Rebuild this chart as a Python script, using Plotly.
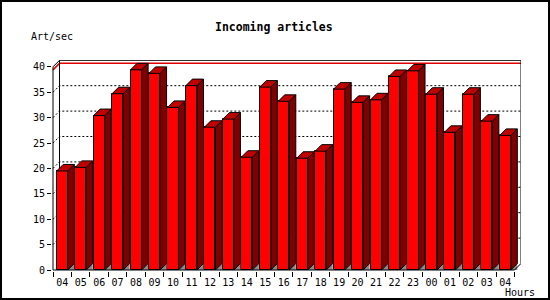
import plotly.graph_objects as go

# ---- data ----
hours = ["04", "05", "06", "07", "08", "09", "10", "11", "12", "13", "14", "15",
         "16", "17", "18", "19", "20", "21", "22", "23", "00", "01", "02", "03", "04"]
articles_per_sec = [19.5, 20.2, 30.4, 34.7, 39.4, 38.7, 32.0, 36.3, 28.1, 29.7, 22.2, 36.0,
                    33.2, 22.0, 23.4, 35.6, 33.0, 33.5, 38.1, 39.2, 34.6, 27.1, 34.6, 29.3, 26.5]
y_ticks = [0, 5, 10, 15, 20, 25, 30, 35, 40]
title = "Incoming articles"
y_title = "Art/sec"
x_title = "Hours"

# ---- geometry / style ----
W, H = 550, 300
ML, MR, MT, MB = 52, 29, 60, 29
PW, PH = W - ML - MR, H - MT - MB
DEPTH = 6.5                      # 3d depth in px
n = len(hours)
S = (PW - 1 - DEPTH) / n         # px per category
U = 5.08                         # px per unit
dxu = DEPTH / S
dyu = DEPTH / U
x0, x1 = -0.5, n - 0.5
xr = [x0 - 1 / S, x1 + dxu]
yr = [-1 / U, (PH - 1) / U]
ymax_axis = y_ticks[-1]
half = 0.3

FRONT = "#ff0000"
SIDE = "#800000"
TOP = "#c00000"
FONT = "DejaVu Sans Mono"

xs = list(range(n))

fig = go.Figure()

# front faces
fig.add_trace(go.Bar(x=xs, y=articles_per_sec, width=2 * half,
                     marker=dict(color=FRONT, line=dict(color="black", width=1)),
                     hoverinfo="skip", showlegend=False))

# floor shadows
tx, ty = [], []
for i, v in zip(xs, articles_per_sec):
    tx += [i + half, i + half + dxu, i + half + dxu, None]
    ty += [0, dyu, 0, None]
fig.add_trace(go.Scatter(x=tx, y=ty, mode="lines", fill="toself", fillcolor="#8c8c8c",
                         line=dict(width=0, color="#8c8c8c"), hoverinfo="skip", showlegend=False))

# side faces
sx, sy = [], []
for i, v in zip(xs, articles_per_sec):
    sx += [i + half, i + half, i + half + dxu, i + half + dxu, i + half, None]
    sy += [0, v, v + dyu, dyu, 0, None]
fig.add_trace(go.Scatter(x=sx, y=sy, mode="lines", fill="toself", fillcolor=SIDE,
                         line=dict(width=1, color="black"), hoverinfo="skip", showlegend=False))

# top faces
px_, py_ = [], []
for i, v in zip(xs, articles_per_sec):
    px_ += [i - half, i + half, i + half + dxu, i - half + dxu, i - half, None]
    py_ += [v, v, v + dyu, v + dyu, v, None]
fig.add_trace(go.Scatter(x=px_, y=py_, mode="lines", fill="toself", fillcolor=TOP,
                         line=dict(width=1, color="black"), hoverinfo="skip", showlegend=False))

shapes = []
# dotted gridlines on back wall
for v in y_ticks[1:-1]:
    shapes.append(dict(type="path", layer="below",
                       path=f"M{x0},{v} L{x0 + dxu},{v + dyu} L{x1 + dxu},{v + dyu}",
                       line=dict(color="black", width=1, dash="2px,2px")))
# max line (red)
vmax = max(articles_per_sec)
shapes.append(dict(type="path", layer="below",
                   path=f"M{x0},{vmax} L{x0 + dxu},{vmax + dyu} L{x1 + dxu},{vmax + dyu}",
                   line=dict(color="#e00000", width=1.5)))
# back wall frame
shapes.append(dict(type="path", layer="below",
                   path=(f"M{x0 + dxu},{dyu} L{x0 + dxu},{ymax_axis + dyu} "
                         f"L{x1 + dxu},{ymax_axis + dyu} L{x1 + dxu},{dyu}"),
                   line=dict(color="black", width=1)))
# front axes
shapes.append(dict(type="path", layer="above",
                   path=(f"M{x0 + dxu},{ymax_axis + dyu} L{x0},{ymax_axis} L{x0},0 "
                         f"L{x1},0 L{x1 + dxu},{dyu}"),
                   line=dict(color="black", width=1)))
# canvas border
shapes.append(dict(type="rect", xref="paper", yref="paper",
                   x0=(1 - ML) / PW, x1=(W - 1 - ML) / PW,
                   y0=(H - MB - (H - 1)) / PH, y1=(H - MB - 1) / PH,
                   line=dict(color="black", width=2)))

fig.update_layout(
    width=W, height=H,
    margin=dict(l=ML, r=MR, t=MT, b=MB, pad=0),
    paper_bgcolor="white", plot_bgcolor="white",
    shapes=shapes,
    bargap=0,
    font=dict(family=FONT, size=10, color="black"),
    xaxis=dict(range=xr, tickvals=xs, ticktext=hours, ticks="", showgrid=False,
               zeroline=False, showline=False, fixedrange=True, ticklabelstandoff=4,
               tickfont=dict(family=FONT, size=10, color="black"),
               minor=dict(tickvals=[i - 0.5 for i in range(n + 1)], ticks="outside",
                          ticklen=5, tickcolor="black", tickwidth=1, showgrid=False)),
    yaxis=dict(range=yr, tickvals=y_ticks, ticks="outside", ticklen=4, tickcolor="black",
               showgrid=False, zeroline=False, showline=False, fixedrange=True,
               tickfont=dict(family=FONT, size=10, color="black")),
    annotations=[
        dict(text=f"<b>{title}</b>", xref="paper", yref="paper",
             x=(274 - ML) / PW, y=(H - MB - 27.5) / PH, xanchor="center", yanchor="middle",
             showarrow=False, font=dict(family=FONT, size=11.5, color="black")),
        dict(text=y_title, xref="paper", yref="paper",
             x=(29 - ML) / PW, y=(H - MB - 36.5) / PH, xanchor="left", yanchor="middle",
             showarrow=False, font=dict(family=FONT, size=10, color="black")),
        dict(text=x_title, xref="paper", yref="paper",
             x=(503 - ML) / PW, y=(H - MB - 292.5) / PH, xanchor="left", yanchor="middle",
             showarrow=False, font=dict(family=FONT, size=10, color="black")),
    ],
)

fig.write_html("out.html")
